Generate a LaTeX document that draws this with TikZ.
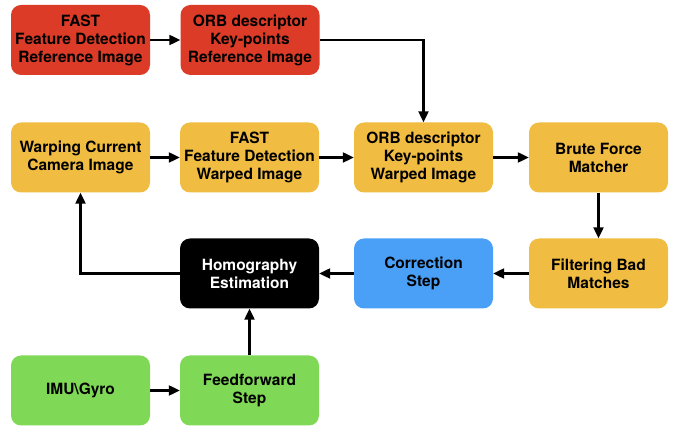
\documentclass[tikz,border=0pt]{standalone}
\usepackage{fontspec}
\setmainfont{TeX Gyre Heros}
\usetikzlibrary{arrows.meta}
\definecolor{cred}{HTML}{DB3B27}
\definecolor{cyel}{HTML}{F0BC42}
\definecolor{cblue}{HTML}{4A9FF6}
\definecolor{cgreen}{HTML}{7FD957}
\tikzset{
  box/.style={rectangle, rounded corners=10pt, minimum width=139pt, minimum height=70pt,
    inner sep=2pt, align=center, font=\fontsize{15.5}{18}\selectfont\bfseries, text=black},
  conn/.style={line width=2.2pt, -{Triangle[length=11pt,width=10pt]}}
}
\begin{document}
\begin{tikzpicture}[x=1pt,y=1pt]
\useasboundingbox (0,0) rectangle (681,-427);
\node[box, fill=cred] (r1) at (80.5,-40) {FAST\\Feature Detection\\Reference Image};
\node[box, fill=cred] (r2) at (250,-40) {ORB descriptor\\Key-points\\Reference Image};
\node[box, fill=cyel] (warp) at (80.5,-157.5) {Warping Current\\Camera Image};
\node[box, fill=cyel] (fast) at (249.5,-157.5) {FAST\\Feature Detection\\Warped Image};
\node[box, fill=cyel] (orb) at (423.5,-157.5) {ORB descriptor\\Key-points\\Warped Image};
\node[box, fill=cyel] (brute) at (598.5,-157.5) {Brute Force\\Matcher};
\node[box, fill=black, text=white] (homo) at (249.5,-273.5) {Homography\\Estimation};
\node[box, fill=cblue] (corr) at (423.5,-273.5) {Correction\\Step};
\node[box, fill=cyel] (filt) at (598.5,-273.5) {Filtering Bad\\Matches};
\node[box, fill=cgreen] (imu) at (80.5,-390.5) {IMU\textbackslash Gyro};
\node[box, fill=cgreen] (ff) at (249.5,-390.5) {Feedforward\\Step};
\draw[conn] (r1) -- (r2);
\draw[conn] (r2.east) -| (orb.north);
\draw[conn] (warp) -- (fast);
\draw[conn] (fast) -- (orb);
\draw[conn] (orb) -- (brute);
\draw[conn] (brute) -- (filt);
\draw[conn] (filt) -- (corr);
\draw[conn] (corr) -- (homo);
\draw[conn] (homo.west) -| (warp.south);
\draw[conn] (imu) -- (ff);
\draw[conn] (ff) -- (homo);
\end{tikzpicture}
\end{document}
